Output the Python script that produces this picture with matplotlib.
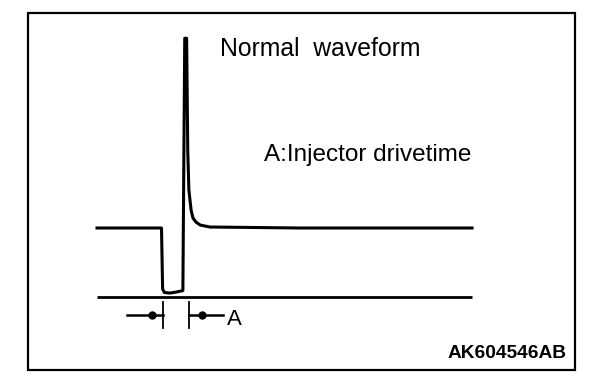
import matplotlib.pyplot as plt
from matplotlib.patches import Rectangle

# Forma de onda del inyector (tiempo en ms, tension en V)
tiempo = [0, 1.72, 1.75, 1.80, 1.95, 2.11, 2.29, 2.34, 2.39, 2.42, 2.45,
          2.51, 2.56, 2.64, 2.75, 3.01, 5.41, 10.0]
tension = [14.0, 14.0, 1.6, 0.9, 0.8, 1.0, 1.3, 52.5, 52.5, 29.8, 21.7,
           17.6, 16.0, 15.2, 14.6, 14.2, 14.0, 14.0]

# Linea de referencia (0 V)
tiempo_ref = [0, 10.0]
tension_ref = [0, 0]

# Cota "A": tiempo de accionamiento del inyector
t_inicio_a = 1.76
t_fin_a = 2.45
v_cota = -3.65

titulo = "Normal  waveform"
leyenda = "A:Injector drivetime"
etiqueta_a = "A"
codigo = "AK604546AB"

W, H = 608, 388
PX_T = 37.5      # pixeles por ms
PX_V = 69 / 14   # pixeles por V
X0, Y0 = 97, 297  # origen en pixeles

plt.rcParams['font.family'] = ['Liberation Sans', 'DejaVu Sans']

fig = plt.figure(figsize=(W / 100, H / 100), dpi=100)
ax = fig.add_axes([0, 0, 1, 1])
ax.set_xlim(-X0 / PX_T, (W - X0) / PX_T)
ax.set_ylim((Y0 - H) / PX_V, Y0 / PX_V)
ax.axis('off')

# Marco
fig.patches.append(Rectangle((28 / W, 1 - 370 / H), 547 / W, 357 / H,
                             transform=fig.transFigure, fill=False,
                             edgecolor='black', linewidth=1.6))

ax.plot(tiempo_ref, tension_ref, color='black', lw=2.0, solid_capstyle='butt')
ax.plot(tiempo, tension, color='black', lw=2.2, solid_joinstyle='round')

# Cota
ax.plot([t_inicio_a, t_inicio_a], [v_cota + 2.6, v_cota - 2.6], color='black', lw=1.3)
ax.plot([t_fin_a, t_fin_a], [v_cota + 2.6, v_cota - 2.6], color='black', lw=1.3)
ax.plot([t_inicio_a - 0.96, t_inicio_a], [v_cota, v_cota], color='black', lw=1.8)
ax.plot([t_fin_a, t_fin_a + 0.91], [v_cota, v_cota], color='black', lw=1.8)
ax.plot([t_inicio_a - 0.29, t_fin_a + 0.35], [v_cota, v_cota], marker='o',
        color='black', markersize=5, linestyle='none')
ax.text(t_fin_a + 1.02, v_cota - 2.0, etiqueta_a, fontsize=16, va='baseline', ha='left')

fig.text(220 / W, 1 - 56 / H, titulo, fontsize=17.8, va='baseline', ha='left')
fig.text(264 / W, 1 - 161 / H, leyenda, fontsize=17.5, va='baseline', ha='left')
fig.text(567 / W, 1 - 358 / H, codigo, fontsize=13.8, fontweight='bold',
         va='baseline', ha='right')

fig.savefig('out.png', dpi=100)
